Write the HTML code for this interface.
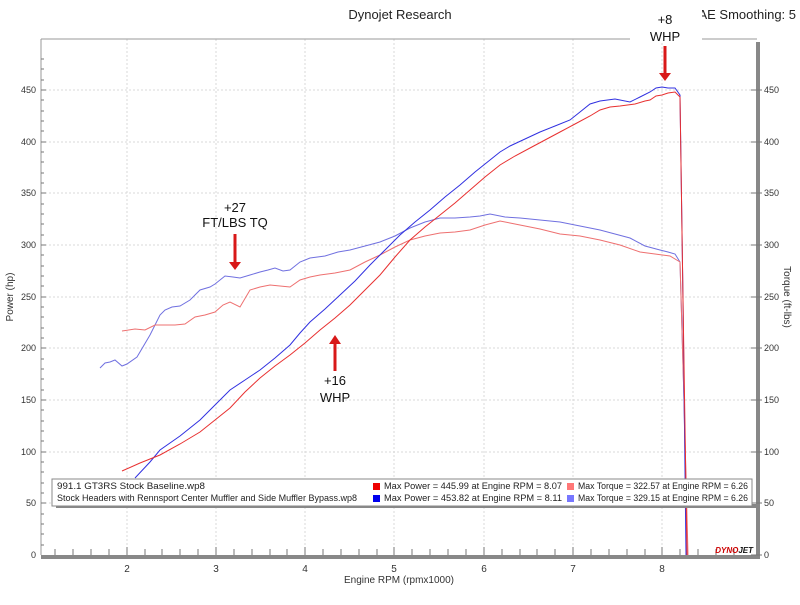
<!DOCTYPE html>
<html><head><meta charset="utf-8"><style>
body{margin:0;background:#fff;font-family:"Liberation Sans",sans-serif;}
svg text{font-family:"Liberation Sans",sans-serif;}
</style></head><body>
<svg width="800" height="600" viewBox="0 0 800 600" xmlns="http://www.w3.org/2000/svg">
<rect width="800" height="600" fill="#fff"/>
<text x="400" y="19" font-size="13" text-anchor="middle" fill="#222">Dynojet Research</text>
<text x="796" y="19" font-size="13" text-anchor="end" fill="#222">CF: SAE Smoothing: 5</text>
<g stroke="#d8d8d8" stroke-dasharray="2,2" stroke-width="1">
<line x1="41" y1="90" x2="757" y2="90"/><line x1="41" y1="142" x2="757" y2="142"/><line x1="41" y1="193" x2="757" y2="193"/><line x1="41" y1="245" x2="757" y2="245"/><line x1="41" y1="297" x2="757" y2="297"/><line x1="41" y1="348" x2="757" y2="348"/><line x1="41" y1="400" x2="757" y2="400"/><line x1="41" y1="452" x2="757" y2="452"/><line x1="41" y1="503" x2="757" y2="503"/>
<line x1="127" y1="39" x2="127" y2="555"/><line x1="216" y1="39" x2="216" y2="555"/><line x1="305" y1="39" x2="305" y2="555"/><line x1="394" y1="39" x2="394" y2="555"/><line x1="484" y1="39" x2="484" y2="555"/><line x1="573" y1="39" x2="573" y2="555"/><line x1="662" y1="39" x2="662" y2="555"/>
</g>
<line x1="41" y1="39" x2="757" y2="39" stroke="#999"/>
<line x1="41" y1="39" x2="41" y2="555" stroke="#999"/>
<rect x="41" y="555" width="719" height="4" fill="#888"/>
<rect x="756" y="42" width="4" height="517" fill="#888"/>
<g font-size="9" fill="#333" text-anchor="end">
<text x="36" y="93">450</text><text x="36" y="145">400</text><text x="36" y="196">350</text><text x="36" y="248">300</text><text x="36" y="300">250</text><text x="36" y="351">200</text><text x="36" y="403">150</text><text x="36" y="455">100</text><text x="36" y="506">50</text><text x="36" y="558">0</text>
</g>
<g font-size="9" fill="#333">
<text x="764" y="93">450</text><text x="764" y="145">400</text><text x="764" y="196">350</text><text x="764" y="248">300</text><text x="764" y="300">250</text><text x="764" y="351">200</text><text x="764" y="403">150</text><text x="764" y="455">100</text><text x="764" y="506">50</text><text x="764" y="558">0</text>
</g>
<g stroke="#777" stroke-width="1">
<path d="M41 90h5M41 142h5M41 193h5M41 245h5M41 297h5M41 348h5M41 400h5M41 452h5M41 503h5M751 90h11M751 142h11M751 193h11M751 245h11M751 297h11M751 348h11M751 400h11M751 452h11M751 503h11M751 555h11"/>
<path d="M41 59h3M41 69h3M41 80h3M41 100h3M41 111h3M41 121h3M41 131h3M41 152h3M41 162h3M41 173h3M41 183h3M41 204h3M41 214h3M41 224h3M41 235h3M41 255h3M41 266h3M41 276h3M41 286h3M41 307h3M41 317h3M41 328h3M41 338h3M41 359h3M41 369h3M41 379h3M41 390h3M41 410h3M41 421h3M41 431h3M41 441h3M41 462h3M41 472h3M41 483h3M41 493h3M41 514h3M41 524h3M41 534h3M41 545h3"/>
<path d="M55 549v6M73 549v6M91 549v6M109 549v6M127 547v8M145 549v6M162 549v6M180 549v6M198 549v6M216 547v8M234 549v6M252 549v6M270 549v6M287 549v6M305 547v8M323 549v6M341 549v6M359 549v6M377 549v6M394 547v8M412 549v6M430 549v6M448 549v6M466 549v6M484 547v8M502 549v6M520 549v6M537 549v6M555 549v6M573 547v8M591 549v6M609 549v6M627 549v6M645 549v6M662 547v8M680 549v6M698 549v6M716 549v6M734 549v6"/>
</g>
<g font-size="10" fill="#333" text-anchor="middle">
<text x="127" y="572">2</text><text x="216" y="572">3</text><text x="305" y="572">4</text><text x="394" y="572">5</text><text x="484" y="572">6</text><text x="573" y="572">7</text><text x="662" y="572">8</text>
</g>
<text x="399" y="583" font-size="10" text-anchor="middle" fill="#333">Engine RPM (rpmx1000)</text>
<text transform="translate(13,297) rotate(-90)" font-size="10" text-anchor="middle" fill="#333">Power (hp)</text>
<text transform="translate(784,297) rotate(90)" font-size="10" text-anchor="middle" fill="#333">Torque (ft-lbs)</text>
<g fill="none" stroke-width="1">
<polyline stroke="#7070e0" points="100,368 105,363 110,362 115,360 122,366 127,364 137,357 150,335 160,315 165,310 172,307 180,306 190,300 200,290 210,287 215,284 225,276 233,277 240,278 250,275 260,272 268,270 275,268 283,271 290,270 300,262 310,258 325,256 338,252 350,250 365,246 380,242 395,236 410,228 425,222 440,218 455,218 470,217 480,216 490,214 505,217 520,218 540,220 560,222 580,226 600,230 615,234 630,238 645,246 660,250 668,252 675,254 680,262 684,400 687,555"/>
<polyline stroke="#ee7070" points="122,331 135,329 145,330 155,325 175,325 185,324 195,317 205,315 215,312 223,305 230,302 240,307 250,290 260,287 270,285 280,286 290,287 300,280 310,277 320,275 335,273 350,270 365,262 380,255 395,247 410,240 425,236 440,233 455,232 470,230 485,225 500,221 510,223 520,225 540,229 560,234 580,236 600,240 620,245 640,252 655,254 670,256 680,262 684,400 688,555"/>
<polyline stroke="#3030e0" points="135,478 150,462 160,450 180,436 200,420 215,405 230,390 245,380 260,370 275,358 290,345 300,333 310,322 325,309 340,295 355,281 370,265 385,250 400,235 415,222 430,210 445,197 460,185 475,172 490,160 500,152 510,146 525,139 540,132 555,126 570,120 580,112 590,104 600,101 615,99 630,102 640,97 650,92 656,88 662,87 668,88 675,88 680,95 683,300 686,555"/>
<polyline stroke="#e83030" points="122,471 140,463 160,455 180,444 200,432 215,420 230,408 245,392 260,378 275,366 290,355 305,343 320,330 335,318 350,305 365,290 380,275 395,257 410,240 425,227 440,215 455,203 470,190 485,177 500,165 515,156 530,148 545,140 560,132 575,124 590,116 600,110 610,107 620,106 635,104 645,101 650,100 656,96 662,95 668,93 675,92 680,97 683,300 687,555"/>
</g>
<rect x="56" y="504" width="700" height="4" fill="#888"/>
<rect x="52" y="479" width="700" height="27" fill="#fff" stroke="#888"/>
<g font-size="9" fill="#222">
<text x="57" y="489" textLength="148" lengthAdjust="spacingAndGlyphs">991.1 GT3RS Stock Baseline.wp8</text>
<text x="57" y="501" textLength="300" lengthAdjust="spacingAndGlyphs">Stock Headers with Rennsport Center Muffler and Side Muffler Bypass.wp8</text>
<rect x="373" y="483" width="7" height="7" fill="#e00"/><text x="384" y="489" textLength="178" lengthAdjust="spacingAndGlyphs">Max Power = 445.99 at Engine RPM = 8.07</text>
<rect x="373" y="495" width="7" height="7" fill="#00e"/><text x="384" y="501" textLength="178" lengthAdjust="spacingAndGlyphs">Max Power = 453.82 at Engine RPM = 8.11</text>
<rect x="567" y="483" width="7" height="7" fill="#f77"/><text x="578" y="489" textLength="170" lengthAdjust="spacingAndGlyphs">Max Torque = 322.57 at Engine RPM = 6.26</text>
<rect x="567" y="495" width="7" height="7" fill="#77f"/><text x="578" y="501" textLength="170" lengthAdjust="spacingAndGlyphs">Max Torque = 329.15 at Engine RPM = 6.26</text>
</g>
<text x="753" y="553" font-size="8" font-weight="bold" font-style="italic" text-anchor="end" fill="#c00">DYNO<tspan fill="#111">JET</tspan></text>
<rect x="630" y="10" width="72" height="32" fill="#fff"/>
<g font-size="13" fill="#111" text-anchor="middle">
<text x="665" y="24">+8</text><text x="665" y="41">WHP</text>
<text x="235" y="212">+27</text><text x="235" y="227">FT/LBS TQ</text>
<text x="335" y="385">+16</text><text x="335" y="402">WHP</text>
</g>
<g fill="#d81818">
<rect x="663.5" y="46" width="3" height="28"/><polygon points="659,73 671,73 665,81"/>
<rect x="233.5" y="234" width="3" height="29"/><polygon points="229,262 241,262 235,270"/>
<rect x="333.5" y="343" width="3" height="28"/><polygon points="329,344 341,344 335,335"/>
</g>
</svg>
</body></html>
